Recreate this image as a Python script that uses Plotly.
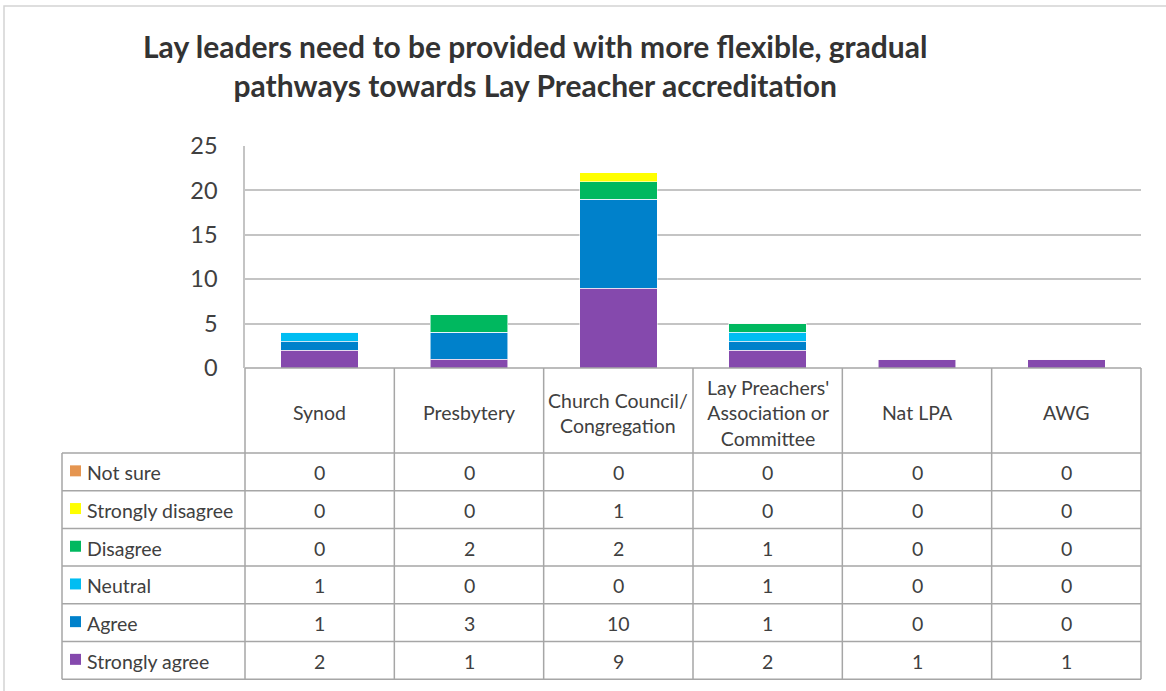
import plotly.graph_objects as go

# ---- data ----
categories = ["Synod", "Presbytery", "Church Council/<br>Congregation",
              "Lay Preachers'<br>Association or<br>Committee", "Nat LPA", "AWG"]
series_names = ["Strongly agree", "Agree", "Neutral", "Disagree", "Strongly disagree", "Not sure"]
strongly_agree = [2, 1, 9, 2, 1, 1]
agree = [1, 3, 10, 1, 0, 0]
neutral = [1, 0, 0, 1, 0, 0]
disagree = [0, 2, 2, 1, 0, 0]
strongly_disagree = [0, 0, 1, 0, 0, 0]
not_sure = [0, 0, 0, 0, 0, 0]
series_values = [strongly_agree, agree, neutral, disagree, strongly_disagree, not_sure]
series_colors = ["#8549AD", "#0081CB", "#00BDF2", "#00B85F", "#FFFF00", "#E59550"]
y_ticks = [0, 5, 10, 15, 20, 25]
title_text = ("Lay leaders need to be provided with more flexible, gradual<br>"
              "pathways towards Lay Preacher accreditation")

# ---- layout geometry (pixels) ----
W, H = 1166, 691
PL, PR, PT, PB = 245, 1141, 146, 368
TABLE_LEFT = 62
HEADER_BOTTOM = 453
ROW_H = 37.7
FONT = "Lato, 'Open Sans', sans-serif"
TEXT = "#404040"
GRID = "#C4C4C4"
TLINE = "#A6A6A6"
FS = 19.5


def px(x):
    return (x - PL) / (PR - PL)


def py(y):
    return (PB - y) / (PB - PT)


fig = go.Figure()
for name, vals, col in zip(series_names, series_values, series_colors):
    fig.add_trace(go.Bar(
        x=categories, y=vals, name=name,
        marker=dict(color=col, line=dict(color="rgba(255,255,255,0.55)", width=1)),
        showlegend=False,
    ))

shapes = []
annotations = []

# outer chart frame
shapes.append(dict(type="rect", xref="paper", yref="paper",
                   x0=px(4), x1=px(1175), y0=py(6), y1=py(700),
                   line=dict(color="#D4D4D4", width=1.5), fillcolor="rgba(0,0,0,0)", layer="below"))

n_rows = len(series_names)
table_bottom = HEADER_BOTTOM + n_rows * ROW_H

# vertical column lines (from plot bottom through table)
ncat = len(categories)
for i in range(ncat + 1):
    xp = PL + i * (PR - PL) / ncat
    shapes.append(dict(type="line", xref="paper", yref="paper",
                       x0=px(xp), x1=px(xp), y0=py(PB), y1=py(table_bottom),
                       line=dict(color=TLINE, width=1.5)))
# left border of the legend column
shapes.append(dict(type="line", xref="paper", yref="paper",
                   x0=px(TABLE_LEFT), x1=px(TABLE_LEFT), y0=py(HEADER_BOTTOM), y1=py(table_bottom),
                   line=dict(color=TLINE, width=1.5)))
# horizontal lines
shapes.append(dict(type="line", xref="paper", yref="paper",
                   x0=px(PL), x1=px(PR), y0=py(PB), y1=py(PB),
                   line=dict(color=TLINE, width=1.5)))
for r in range(n_rows + 1):
    yy = HEADER_BOTTOM + r * ROW_H
    shapes.append(dict(type="line", xref="paper", yref="paper",
                       x0=px(TABLE_LEFT), x1=px(PR), y0=py(yy), y1=py(yy),
                       line=dict(color=TLINE, width=1.5)))

# header labels
for c in categories:
    annotations.append(dict(xref="x", yref="paper", x=c, y=py((PB + HEADER_BOTTOM) / 2 + 2),
                            text=c, showarrow=False, xanchor="center", yanchor="middle",
                            font=dict(family=FONT, size=FS, color=TEXT)))

# table rows: top row is last series
for r, idx in enumerate(reversed(range(n_rows))):
    yc = HEADER_BOTTOM + (r + 0.5) * ROW_H
    name = series_names[idx]
    col = series_colors[idx]
    shapes.append(dict(type="rect", xref="paper", yref="paper",
                       x0=px(70), x1=px(81), y0=py(yc - 6.5), y1=py(yc + 4.5),
                       fillcolor=col, line=dict(width=0)))
    annotations.append(dict(xref="paper", yref="paper", x=px(85), y=py(yc + 1),
                            text=name, showarrow=False, xanchor="left", yanchor="middle",
                            font=dict(family=FONT, size=FS, color=TEXT)))
    for c, v in zip(categories, series_values[idx]):
        annotations.append(dict(xref="x", yref="paper", x=c, y=py(yc + 1),
                                text=str(v), showarrow=False, xanchor="center", yanchor="middle",
                                font=dict(family=FONT, size=FS, color=TEXT)))

# title
annotations.append(dict(xref="paper", yref="paper", x=px(535), y=py(66),
                        text="<b>" + title_text + "</b>", showarrow=False,
                        xanchor="center", yanchor="middle", align="center",
                        font=dict(family=FONT, size=30, color="#333333")))

fig.update_layout(
    width=W, height=H, autosize=False,
    margin=dict(l=PL, r=W - PR, t=PT, b=H - PB, pad=0),
    paper_bgcolor="white", plot_bgcolor="white",
    barmode="stack", bargap=0.48,
    xaxis=dict(range=[-0.5, ncat - 0.5], showticklabels=False, showgrid=False,
               zeroline=False, showline=False, fixedrange=True),
    yaxis=dict(range=[0, 25], tickvals=y_ticks, showgrid=True, gridcolor=GRID, gridwidth=1.5,
               zeroline=False, showline=True, linecolor=GRID, linewidth=1.5,
               ticks="", ticklabelstandoff=21,
               tickfont=dict(family=FONT, size=23.5, color=TEXT), fixedrange=True),
    shapes=shapes, annotations=annotations,
)

fig.write_html("out.html", config={"displayModeBar": False},
               post_script="document.body.style.margin='0';")
